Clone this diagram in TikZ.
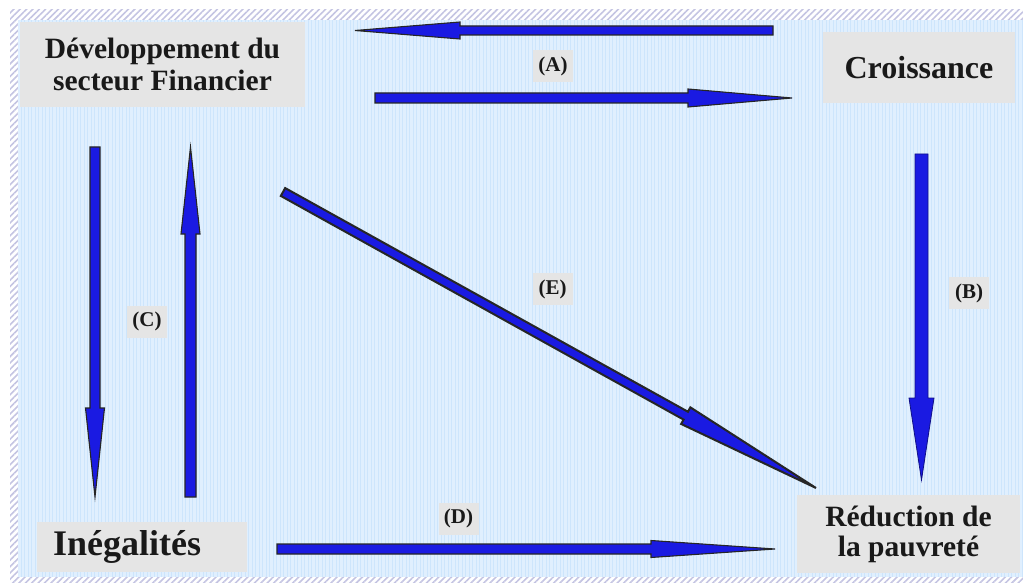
\documentclass[tikz,border=0pt]{standalone}
\usepackage{fontspec}
\setmainfont{Liberation Serif}
\usetikzlibrary{calc,patterns.meta}
\definecolor{arrblue}{RGB}{26,26,226}
\definecolor{boxgray}{RGB}{229,229,229}
\definecolor{bgblue}{RGB}{224,239,254}
\definecolor{gridblue}{RGB}{205,229,252}
\definecolor{hatchcol}{RGB}{196,196,226}
\definecolor{txt}{RGB}{25,25,25}
\newcommand\blockarrow[6][]{%
  \coordinate (hb) at ($(#3)!#6!(#2)$);
  \draw[barrow,#1] ($(#2)!#4!90:(#3)$) -- ($(hb)!#4!90:(#3)$) -- ($(hb)!#5!90:(#3)$) -- (#3)
    -- ($(hb)!#5!-90:(#3)$) -- ($(hb)!#4!-90:(#3)$) -- ($(#2)!#4!-90:(#3)$) -- cycle;
}
\tikzset{
  barrow/.style={fill=arrblue, draw=black!85, line width=1.1bp, line join=miter},
  mainbox/.style={fill=boxgray, text=txt, inner sep=0pt, align=center, font=\bfseries\fontsize{29.5bp}{32bp}\selectfont},
  lbl/.style={fill=boxgray, text=txt, inner sep=0pt, minimum width=40bp, minimum height=32bp, font=\bfseries\fontsize{21bp}{24bp}\selectfont}
}
\begin{document}
\begin{tikzpicture}[x=1bp,y=-1bp]
\useasboundingbox (0,0) rectangle (1023,583);
% border and background
\fill[pattern={Lines[angle=45,distance=4.5bp,line width=1.6bp]}, pattern color=hatchcol] (10,10) rectangle (1023,583);
\fill[bgblue] (18,20) rectangle (1023,577);
\draw[gridblue, line width=0.5bp, step=3.5] (18,20) grid (1023,577);
% main boxes
\node[mainbox, minimum width=285bp, minimum height=85bp] (dev) at (162.5,64.5) {Développement du\\secteur Financier};
\node[mainbox, minimum width=192bp, minimum height=71bp, font=\bfseries\fontsize{32bp}{35bp}\selectfont] (croi) at (919,67.5) {Croissance};
\node[mainbox, minimum width=223bp, minimum height=78bp, font=\bfseries\fontsize{29.5bp}{30bp}\selectfont] (red) at (908.5,534) {Réduction de\\la pauvreté};
\node[mainbox, anchor=west, inner xsep=16bp, text width=178bp, align=left, minimum height=50bp, font=\bfseries\fontsize{36bp}{38bp}\selectfont] (ineg) at (37,547) {Inégalités};
% labels
\node[lbl] (la) at (553,66) {(A)};
\node[lbl] (lb) at (969,293) {(B)};
\node[lbl] (lc) at (147,321.5) {(C)};
\node[lbl] (ld) at (458.5,518.5) {(D)};
\node[lbl] (le) at (552.5,289) {(E)};
% arrow end points
\coordinate (a1t) at (773,30.5);  \coordinate (a1h) at (355,30.5);
\coordinate (a2t) at (375,98);    \coordinate (a2h) at (792,98);
\coordinate (bt) at (921.5,154);  \coordinate (bh) at (921.5,480);
\coordinate (c1t) at (95,147);    \coordinate (c1h) at (95,497);
\coordinate (c2t) at (190.5,497); \coordinate (c2h) at (190.5,147);
\coordinate (dt) at (277,549);    \coordinate (dh) at (775,549);
\coordinate (et) at (283,192);    \coordinate (eh) at (816,488);
% arrows
\blockarrow{a1t}{a1h}{4.5bp}{8.5bp}{105bp}
\blockarrow{a2t}{a2h}{5bp}{9bp}{104bp}
\blockarrow[draw=arrblue!60!black, line width=0.8bp]{bt}{bh}{6.5bp}{12.5bp}{82bp}
\blockarrow{c1t}{c1h}{5bp}{9.5bp}{89bp}
\blockarrow{c2t}{c2h}{5.5bp}{9.5bp}{87bp}
\blockarrow{dt}{dh}{5bp}{8.5bp}{124bp}
\blockarrow[line width=2bp]{et}{eh}{4.5bp}{9.5bp}{149bp}
\end{tikzpicture}
\end{document}
